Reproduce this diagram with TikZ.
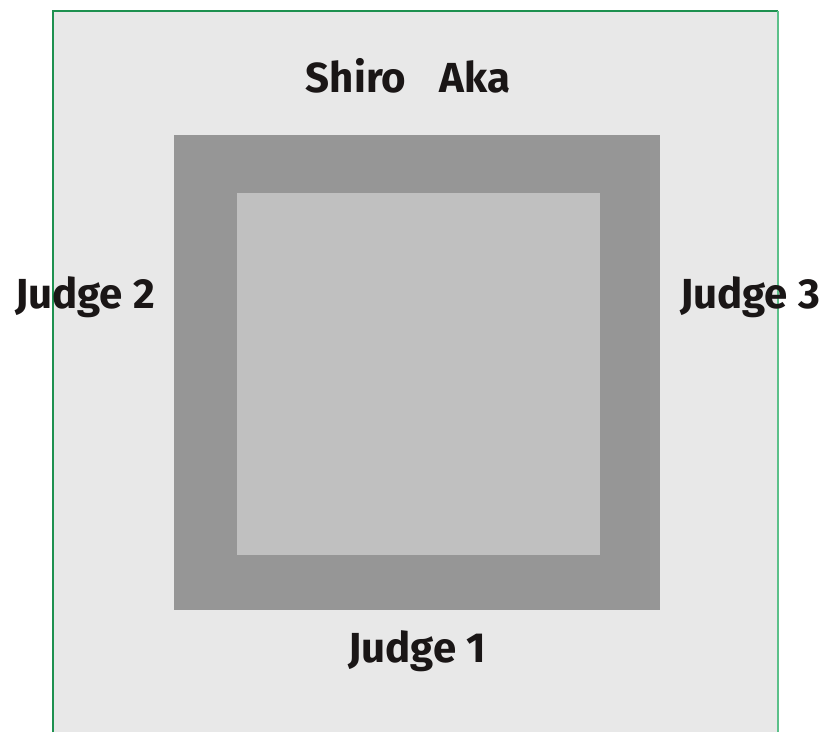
\documentclass[tikz,border=0pt]{standalone}
\usepackage{fontspec}
\setmainfont{Fira Sans}
\definecolor{outerbg}{HTML}{E8E8E8}
\definecolor{darkband}{HTML}{969696}
\definecolor{innerbox}{HTML}{C0C0C0}
\definecolor{edgegreen}{HTML}{1E9150}
\definecolor{edgegreenlt}{HTML}{5CC08A}
\definecolor{inktext}{HTML}{1A1616}
\begin{document}
\begin{tikzpicture}[x=1pt,y=-1pt,
  lbl/.style={font=\fontsize{42}{42}\selectfont\bfseries, text=inktext, inner sep=0pt}]
\useasboundingbox (0,0) rectangle (827,732);
\fill[outerbg] (53,11) rectangle (778,732);
\draw[edgegreen, line width=1.2pt] (53,732) -- (53,11) -- (778,11);
\draw[edgegreenlt, line width=1.5pt] (778,11) -- (778,732);
\fill[darkband] (174,135) rectangle (660,610);
\fill[innerbox] (237,193) rectangle (600,555);
\node[lbl] (top) at (408,76) {Shiro\hspace{0.8em}Aka};
\node[lbl] (left) at (85,297) {Judge 2};
\node[lbl] (right) at (750,297) {Judge 3};
\node[lbl] (bottom) at (417,651) {Judge 1};
\end{tikzpicture}
\end{document}
